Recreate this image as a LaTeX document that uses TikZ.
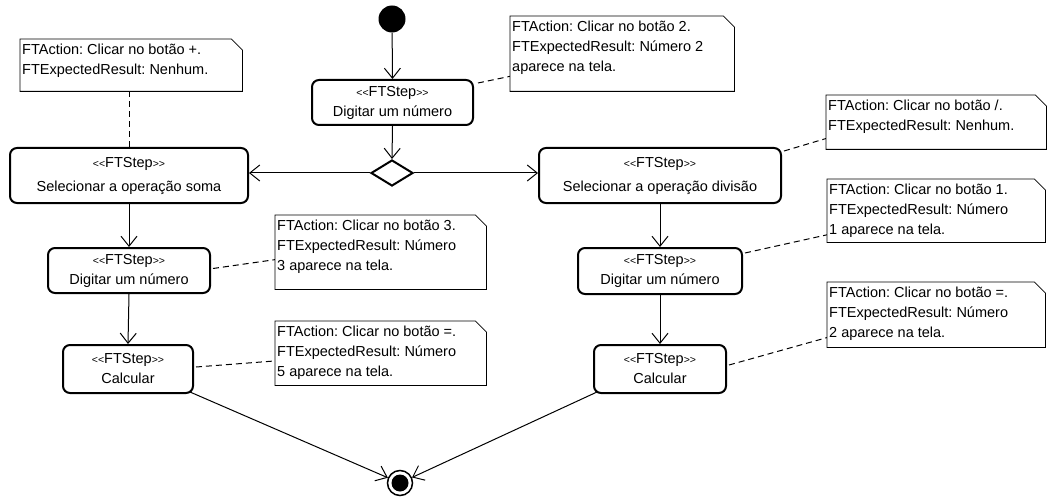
\documentclass[tikz,border=0pt]{standalone}
\usepackage{fontspec}
\setmainfont{Liberation Sans}
\usetikzlibrary{arrows.meta,shapes.geometric,calc,backgrounds}
\frenchspacing
\newcommand\ftstep{{\fontsize{10.5}{10}\selectfont<\kern0pt<}FTStep{\fontsize{10.5}{10}\selectfont>\kern0pt>}}
\newcommand\notefold[1]{\draw[line width=0.8pt,fill=white] (#1.north west) -- ([xshift=-11pt]#1.north east) -- ([yshift=-11pt]#1.north east) -- (#1.south east) -- (#1.south west) -- cycle;}
\begin{document}
\begin{tikzpicture}[x=1pt,y=-1pt,
  font=\fontsize{14.5}{20}\selectfont,
  stepbox/.style={draw, line width=2pt, rounded corners=7pt, align=center, inner sep=0pt, fill=white},
  flow/.style={line width=1pt, -{Straight Barb[length=10pt,width=16pt,line width=1pt]}},
  link/.style={line width=1pt, dash pattern=on 6pt off 4pt},
  notebox/.style={anchor=north west, inner sep=0pt},
  notetext/.style={anchor=north west, align=left, inner sep=0pt},
]
\useasboundingbox (0,0) rectangle (1047,500);

% start / end
\node (start) [circle, fill=black, minimum size=27pt, inner sep=0pt] at (392,19) {};
\node (fin) [circle, draw, fill=white, line width=1.5pt, minimum size=25pt, inner sep=0pt] at (400,483) {};
\node (finc) [circle, fill=black, minimum size=17pt, inner sep=0pt] at (400,483) {};

% steps
\node (b0) [stepbox, minimum width=161pt, minimum height=45pt] at (392.5,102.5) {\ftstep\\Digitar um número};
\node (dec) [diamond, draw, line width=2pt, fill=white, minimum width=42pt, minimum height=26pt, inner sep=0pt] at (392,173) {};
\node (b1) [stepbox, minimum width=238pt, minimum height=55pt] at (129,175.5) {\ftstep\\[4pt]Selecionar a operação soma};
\node (b2) [stepbox, minimum width=242pt, minimum height=55pt] at (660,175.5) {\ftstep\\[4pt]Selecionar a operação divisão};
\node (b3) [stepbox, minimum width=162pt, minimum height=45pt] at (129,270.5) {\ftstep\\Digitar um número};
\node (b4) [stepbox, minimum width=164pt, minimum height=46pt] at (660,271) {\ftstep\\Digitar um número};
\node (b5) [stepbox, minimum width=130pt, minimum height=48pt] at (128,369) {\ftstep\\Calcular};
\node (b6) [stepbox, minimum width=132pt, minimum height=48pt] at (660,369) {\ftstep\\Calcular};

% notes
\node (n0) [notebox, minimum width=224pt, minimum height=75pt] at (510,16) {};
\node (n1) [notebox, minimum width=222pt, minimum height=52pt] at (20,39) {};
\node (n2) [notebox, minimum width=220pt, minimum height=54pt] at (826,95) {};
\node (n3) [notebox, minimum width=211pt, minimum height=74pt] at (275,215) {};
\node (n4) [notebox, minimum width=218pt, minimum height=63pt] at (827,179) {};
\node (n5) [notebox, minimum width=211pt, minimum height=64pt] at (275,321) {};
\node (n6) [notebox, minimum width=218pt, minimum height=65pt] at (827,282) {};
\foreach \n in {n0,n1,n2,n3,n4,n5,n6} {\notefold{\n}}
\node (t0) [notetext] at ($(n0.north west)+(2,5)$) {FTAction: Clicar no botão 2.\\FTExpectedResult: Número 2\\aparece na tela.};
\node (t1) [notetext] at ($(n1.north west)+(2,5)$) {FTAction: Clicar no botão +.\\FTExpectedResult: Nenhum.};
\node (t2) [notetext] at ($(n2.north west)+(2,5)$) {FTAction: Clicar no botão /.\\FTExpectedResult: Nenhum.};
\node (t3) [notetext] at ($(n3.north west)+(2,5)$) {FTAction: Clicar no botão 3.\\FTExpectedResult: Número\\3 aparece na tela.};
\node (t4) [notetext] at ($(n4.north west)+(2,5)$) {FTAction: Clicar no botão 1.\\FTExpectedResult: Número\\1 aparece na tela.};
\node (t5) [notetext] at ($(n5.north west)+(2,5)$) {FTAction: Clicar no botão =.\\FTExpectedResult: Número\\5 aparece na tela.};
\node (t6) [notetext] at ($(n6.north west)+(2,5)$) {FTAction: Clicar no botão =.\\FTExpectedResult: Número\\2 aparece na tela.};

\begin{scope}[on background layer]
\fill[white] (0,0) rectangle (1047,500);
% flows
\draw[flow] (start) -- (b0.north);
\draw[flow] (b0.south) -- (dec.north);
\draw[flow] (dec.west) -- (dec.west -| b1.east);
\draw[flow] (dec.east) -- (dec.east -| b2.west);
\draw[flow] (b1.south) -- (b3.north);
\draw[flow] (b3.south) -- (b5.north);
\draw[flow] (b2.south) -- (b4.north);
\draw[flow] (b4.south) -- (b6.north);
\draw[flow] ($(b5.south east)+(-4,-2)$) -- (fin);
\draw[flow] ($(b6.south west)+(4,-2)$) -- (fin);
% note links
\draw[link] (b1.north) -- (b1.north |- n1.south);
\draw[link] ($(b0.north east)+(4,4)$) -- ($(n0.north west)!0.8!(n0.south west)$);
\draw[link] ($(b2.north east)+(2,4)$) -- ($(n2.north west)!0.8!(n2.south west)$);
\draw[link] ($(b3.east)+(2,-2)$) -- ($(n3.north west)!0.6!(n3.south west)$);
\draw[link] ($(b4.north east)+(2,6)$) -- ($(n4.north west)!0.88!(n4.south west)$);
\draw[link] ($(b5.east)+(2,-2)$) -- ($(n5.north west)!0.62!(n5.south west)$);
\draw[link] ($(b6.east)+(2,-4)$) -- ($(n6.north west)!0.85!(n6.south west)$);
\end{scope}
\end{tikzpicture}
\end{document}
